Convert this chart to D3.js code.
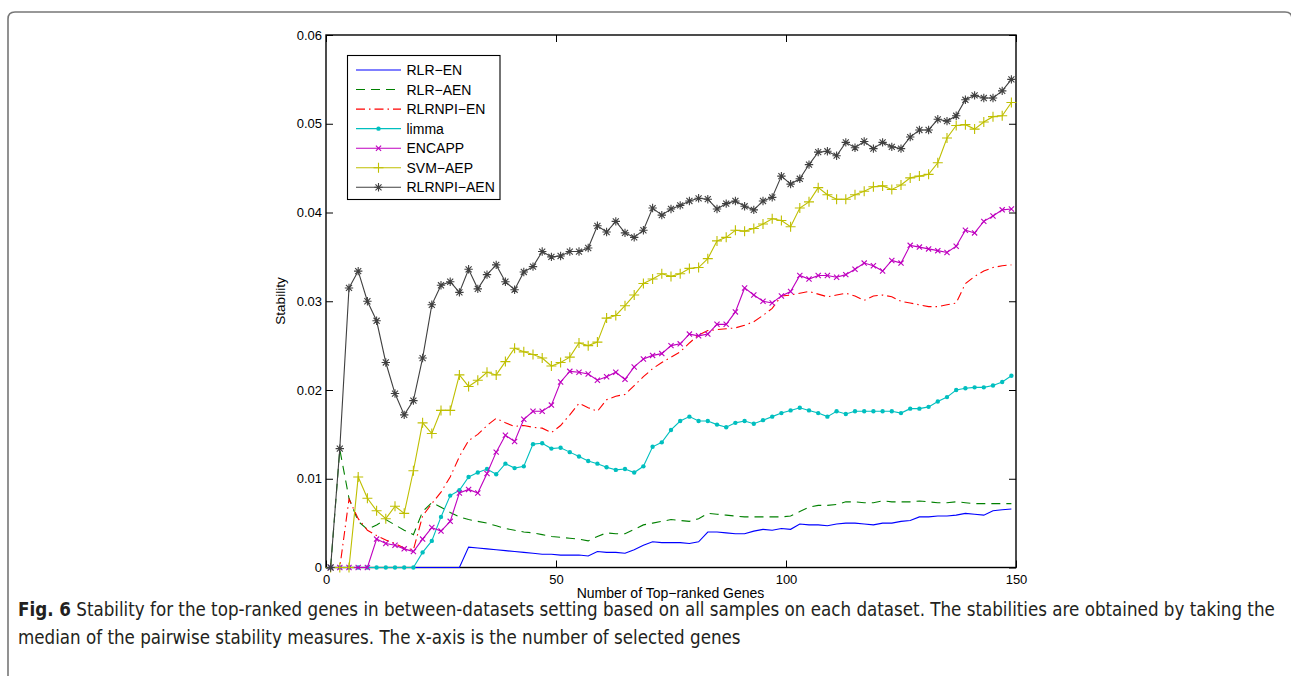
<!DOCTYPE html>
<html>
<head>
<meta charset="utf-8">
<script src="https://cdn.jsdelivr.net/npm/d3@7"></script>
<style>
  body { margin: 0; background: #fff; }
  svg { display: block; }
  .caption { font-family: "DejaVu Sans", sans-serif; font-stretch: condensed; }
</style>
</head>
<body>
<svg id="fig" width="1291" height="676"></svg>
<script>
// Number of top-ranked genes (x positions of the samples)
const geneCounts = d3.range(1, 150, 2);

// Median pairwise stability for each method
const rlrEN = [
  0,0,0,0,0,0,0,0,0,0,
  0,0,0,0,0,0.0023,0.0022,0.0021,0.0020,0.0019,
  0.0018,0.0017,0.0016,0.0015,0.0015,0.0014,0.0014,0.0014,0.0013,0.0018,
  0.0017,0.0017,0.0016,0.0020,0.0025,0.0029,0.0028,0.0028,0.0028,0.0027,
  0.0029,0.0040,0.0040,0.0039,0.0038,0.0038,0.0041,0.0043,0.0042,0.0044,
  0.0043,0.0049,0.0048,0.0048,0.0047,0.0049,0.0050,0.0050,0.0049,0.0048,
  0.0050,0.0050,0.0052,0.0053,0.0057,0.0057,0.0058,0.0058,0.0059,0.0061,
  0.0060,0.0059,0.0064,0.0065,0.0066
];
const rlrAEN = [
  0,0.0133,0.0078,0.0052,0.0043,0.0048,0.0054,0.0048,0.0042,0.0037,
  0.0063,0.0073,0.0068,0.0062,0.0057,0.0054,0.0052,0.0050,0.0047,0.0044,
  0.0042,0.0040,0.0039,0.0037,0.0035,0.0034,0.0033,0.0032,0.0030,0.0035,
  0.0039,0.0038,0.0038,0.0043,0.0048,0.0050,0.0052,0.0054,0.0053,0.0052,
  0.0055,0.0061,0.0060,0.0059,0.0058,0.0057,0.0057,0.0057,0.0057,0.0057,
  0.0058,0.0063,0.0068,0.0070,0.0070,0.0071,0.0074,0.0074,0.0073,0.0073,
  0.0075,0.0074,0.0074,0.0074,0.0075,0.0074,0.0073,0.0073,0.0074,0.0073,
  0.0072,0.0072,0.0072,0.0072,0.0072
];
const rlrnpiEN = [
  0,0,0.0077,0.0055,0.0042,0.0036,0.0031,0.0027,0.0022,0.0020,
  0.0058,0.0072,0.0085,0.0102,0.0125,0.0143,0.0150,0.0160,0.0168,0.0163,
  0.0159,0.0160,0.0158,0.0157,0.0152,0.0160,0.0172,0.0185,0.0180,0.0176,
  0.0189,0.0193,0.0195,0.0205,0.0215,0.0224,0.0231,0.0237,0.0243,0.0253,
  0.0262,0.0267,0.0268,0.0269,0.0270,0.0273,0.0277,0.0284,0.0292,0.0306,
  0.0307,0.0309,0.0311,0.0308,0.0305,0.0307,0.0309,0.0306,0.0301,0.0306,
  0.0307,0.0305,0.0300,0.0298,0.0296,0.0294,0.0294,0.0296,0.0298,0.0320,
  0.0328,0.0334,0.0338,0.0340,0.0341
];
const limma = [
  0,0,0,0,0,0,0,0,0,0,
  0.0017,0.0030,0.0057,0.0081,0.0087,0.0102,0.0107,0.0111,0.0105,0.0117,
  0.0112,0.0114,0.0139,0.0140,0.0134,0.0135,0.0130,0.0125,0.0120,0.0117,
  0.0113,0.0110,0.0111,0.0107,0.0114,0.0136,0.0141,0.0155,0.0165,0.0170,
  0.0165,0.0165,0.0161,0.0158,0.0163,0.0165,0.0162,0.0166,0.0170,0.0174,
  0.0177,0.0180,0.0177,0.0174,0.0170,0.0176,0.0173,0.0176,0.0176,0.0176,
  0.0176,0.0176,0.0174,0.0179,0.0179,0.0181,0.0187,0.0192,0.0200,0.0202,
  0.0203,0.0203,0.0205,0.0209,0.0216
];
const encapp = [
  0,0,0,0,0,0.0032,0.0027,0.0025,0.0021,0.0018,
  0.0032,0.0045,0.0041,0.0052,0.0084,0.0088,0.0084,0.0106,0.0130,0.0149,
  0.0142,0.0167,0.0176,0.0176,0.0183,0.0209,0.0221,0.0220,0.0218,0.0211,
  0.0215,0.0220,0.0212,0.0226,0.0235,0.0239,0.0241,0.0250,0.0252,0.0263,
  0.0261,0.0263,0.0274,0.0274,0.0288,0.0315,0.0307,0.0300,0.0298,0.0306,
  0.0311,0.0329,0.0325,0.0329,0.0329,0.0327,0.0330,0.0336,0.0343,0.0340,
  0.0334,0.0346,0.0343,0.0363,0.0361,0.0359,0.0357,0.0355,0.0362,0.0380,
  0.0377,0.0390,0.0396,0.0403,0.0404
];
const svmAEP = [
  0,0,0,0.0102,0.0078,0.0064,0.0055,0.0069,0.0061,0.0109,
  0.0163,0.0151,0.0177,0.0177,0.0217,0.0204,0.0211,0.0220,0.0217,0.0232,
  0.0247,0.0243,0.0240,0.0236,0.0227,0.0231,0.0237,0.0253,0.0250,0.0254,
  0.0281,0.0284,0.0295,0.0307,0.0320,0.0325,0.0331,0.0328,0.0331,0.0337,
  0.0338,0.0348,0.0368,0.0372,0.0380,0.0379,0.0382,0.0387,0.0393,0.0391,
  0.0384,0.0405,0.0412,0.0428,0.0420,0.0415,0.0415,0.0420,0.0424,0.0429,
  0.0430,0.0426,0.0431,0.0439,0.0441,0.0443,0.0456,0.0484,0.0498,0.0499,
  0.0494,0.0502,0.0508,0.0509,0.0524
];
const rlrnpiAEN = [
  0,0.0134,0.0315,0.0334,0.0300,0.0278,0.0231,0.0196,0.0172,0.0188,
  0.0236,0.0296,0.0318,0.0322,0.0310,0.0336,0.0314,0.0330,0.0341,0.0322,
  0.0313,0.0333,0.0339,0.0356,0.0350,0.0351,0.0356,0.0356,0.0360,0.0385,
  0.0378,0.0390,0.0377,0.0372,0.0380,0.0405,0.0397,0.0404,0.0408,0.0413,
  0.0416,0.0415,0.0404,0.0410,0.0413,0.0407,0.0403,0.0413,0.0417,0.0441,
  0.0432,0.0438,0.0454,0.0468,0.0469,0.0464,0.0479,0.0473,0.0480,0.0472,
  0.0479,0.0474,0.0472,0.0485,0.0493,0.0493,0.0505,0.0503,0.0509,0.0527,
  0.0532,0.0529,0.0529,0.0537,0.0550
];

const methodNames = ["RLR\u2212EN", "RLR\u2212AEN", "RLRNPI\u2212EN", "limma", "ENCAPP", "SVM\u2212AEP", "RLRNPI\u2212AEN"];
const xTicks = [0, 50, 100, 150];
const yTicks = [0, 0.01, 0.02, 0.03, 0.04, 0.05, 0.06];
const xLabel = "Number of Top\u2212ranked Genes";
const yLabel = "Stability";
const captionBold = "Fig. 6";
const captionLine1 = " Stability for the top-ranked genes in between-datasets setting based on all samples on each dataset. The stabilities are obtained by taking the";
const captionLine2 = "median of the pairwise stability measures. The x-axis is the number of selected genes";

const series = [
  { name: methodNames[0], values: rlrEN,     color: "#0000ff", dash: null,        marker: null },
  { name: methodNames[1], values: rlrAEN,    color: "#008000", dash: "9,6",       marker: null },
  { name: methodNames[2], values: rlrnpiEN,  color: "#ff0000", dash: "9,4,1.5,4", marker: null },
  { name: methodNames[3], values: limma,     color: "#00bfbf", dash: null,        marker: "dot" },
  { name: methodNames[4], values: encapp,    color: "#bf00bf", dash: null,        marker: "x" },
  { name: methodNames[5], values: svmAEP,    color: "#bfbf00", dash: null,        marker: "plus" },
  { name: methodNames[6], values: rlrnpiAEN, color: "#404040", dash: null,        marker: "star" }
];

const svg = d3.select("#fig");
const FONT = "Liberation Sans, Arimo, Arial, sans-serif";

// Outer figure frame (rounded top corners, open at the bottom)
svg.append("path")
  .attr("d", "M8,700 L8,19 Q8,12 15,12 L1285,12 Q1292,12 1292,19 L1292,700")
  .attr("fill", "none")
  .attr("stroke", "#777")
  .attr("stroke-width", 1.6);

const plotL = 326, plotR = 1016, plotT = 35, plotB = 567.5;
const x = d3.scaleLinear().domain([0, 150]).range([plotL, plotR]);
const y = d3.scaleLinear().domain([0, 0.06]).range([plotB, plotT]);

const fmtY = v => v === 0 ? "0" : v.toFixed(2);

// Axes with inward ticks on all four sides
function styleAxis(g) {
  g.select(".domain").remove();
  g.selectAll(".tick line").attr("stroke", "#000").attr("stroke-width", 1);
  g.selectAll("text").attr("font-family", FONT).attr("font-size", 13).attr("fill", "#000");
}
svg.append("g").attr("transform", `translate(0,${plotB})`)
  .call(d3.axisBottom(x).tickValues(xTicks).tickSizeInner(-7).tickSizeOuter(0).tickPadding(7).tickFormat(d3.format("d")))
  .call(styleAxis);
svg.append("g").attr("transform", `translate(0,${plotT})`)
  .call(d3.axisTop(x).tickValues(xTicks).tickSizeInner(-7).tickSizeOuter(0).tickFormat(""))
  .call(styleAxis);
svg.append("g").attr("transform", `translate(${plotL},0)`)
  .call(d3.axisLeft(y).tickValues(yTicks).tickSizeInner(-7).tickSizeOuter(0).tickPadding(4).tickFormat(fmtY))
  .call(styleAxis);
svg.append("g").attr("transform", `translate(${plotR},0)`)
  .call(d3.axisRight(y).tickValues(yTicks).tickSizeInner(-7).tickSizeOuter(0).tickFormat(""))
  .call(styleAxis);

// Plot box
svg.append("rect")
  .attr("x", plotL).attr("y", plotT)
  .attr("width", plotR - plotL).attr("height", plotB - plotT)
  .attr("fill", "none").attr("stroke", "#000").attr("stroke-width", 1.4);

// Marker shapes
function markerPath(type, s) {
  switch (type) {
    case "x": return `M${-s},${-s}L${s},${s}M${-s},${s}L${s},${-s}`;
    case "plus": return `M${-s},0H${s}M0,${-s}V${s}`;
    case "star": {
      const d = s * 0.72;
      return `M${-s},0H${s}M0,${-s}V${s}M${-d},${-d}L${d},${d}M${-d},${d}L${d},${-d}`;
    }
  }
  return "";
}
const markerSize = { x: 2.6, plus: 5, star: 4.2 };

function drawMarker(g, type, color, cx, cy) {
  if (type === "dot") {
    g.append("circle").attr("cx", cx).attr("cy", cy).attr("r", 2.2).attr("fill", color);
  } else {
    g.append("path").attr("transform", `translate(${cx},${cy})`)
      .attr("d", markerPath(type, markerSize[type]))
      .attr("fill", "none").attr("stroke", color).attr("stroke-width", 1.1);
  }
}

const line = d3.line().x((d, i) => x(geneCounts[i])).y(d => y(d));
const plotG = svg.append("g");

series.forEach(s => {
  const g = plotG.append("g");
  g.append("path")
    .attr("d", line(s.values))
    .attr("fill", "none")
    .attr("stroke", s.color)
    .attr("stroke-width", 1.1)
    .attr("stroke-dasharray", s.dash);
  if (s.marker) {
    s.values.forEach((v, i) => drawMarker(g, s.marker, s.color, x(geneCounts[i]), y(v)));
  }
});

// Legend
const legX = 347.5, legY = 55.5, legW = 152.5, legH = 144;
const legG = svg.append("g");
legG.append("rect").attr("x", legX).attr("y", legY).attr("width", legW).attr("height", legH)
  .attr("fill", "#fff").attr("stroke", "#000").attr("stroke-width", 1.1);
series.forEach((s, i) => {
  const cy = 70 + i * 19.55;
  legG.append("line").attr("x1", 356).attr("x2", 401).attr("y1", cy).attr("y2", cy)
    .attr("stroke", s.color).attr("stroke-width", 1.1).attr("stroke-dasharray", s.dash);
  if (s.marker) drawMarker(legG, s.marker, s.color, 378.5, cy);
  legG.append("text").attr("x", 406.5).attr("y", cy + 5)
    .attr("font-family", FONT).attr("font-size", 14).attr("fill", "#000")
    .text(s.name);
});

// Axis titles
svg.append("text")
  .attr("x", (plotL + plotR) / 2 - 0.5).attr("y", 598)
  .attr("text-anchor", "middle")
  .attr("font-family", FONT).attr("font-size", 14).attr("fill", "#000")
  .text(xLabel);
svg.append("text")
  .attr("transform", "translate(285,301) rotate(-90)")
  .attr("text-anchor", "middle")
  .attr("font-family", FONT).attr("font-size", 13.5).attr("fill", "#000")
  .text(yLabel);

// Caption, scaled horizontally so the first line spans the frame width
const capG = svg.append("g")
  .attr("class", "caption")
  .attr("font-size", 19)
  .attr("fill", "#231f20");
const t1 = capG.append("text").attr("x", 0).attr("y", 616);
t1.append("tspan").attr("font-weight", "bold").text(captionBold);
t1.append("tspan").text(captionLine1);
capG.append("text").attr("x", 0).attr("y", 644).text(captionLine2);
const w1 = t1.node().getComputedTextLength();
const sx = 1257 / w1;
capG.attr("transform", `translate(18,0) scale(${sx},1)`);
</script>
</body>
</html>
